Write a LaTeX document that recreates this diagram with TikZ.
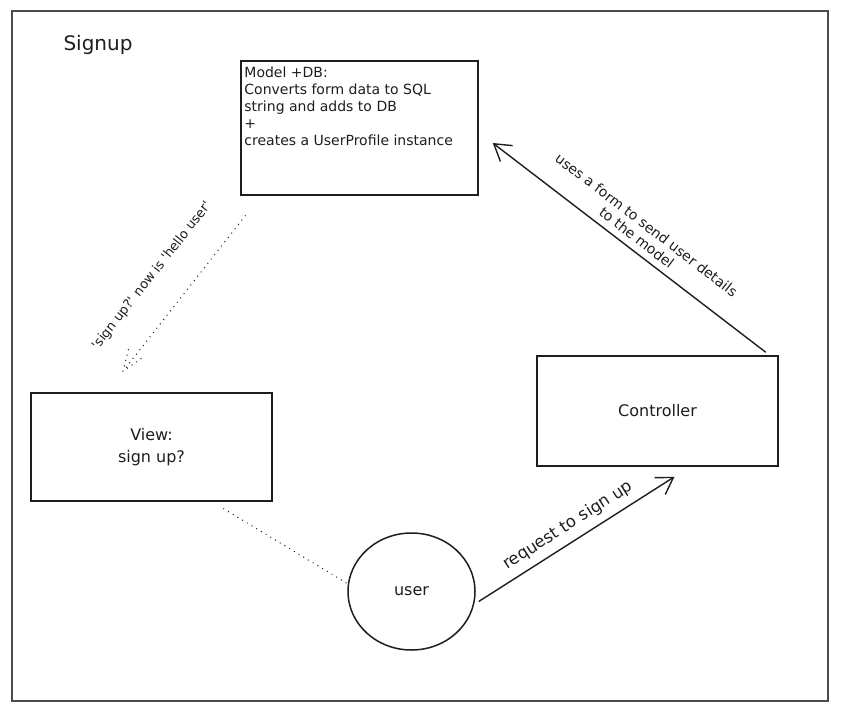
\documentclass[tikz,border=0pt]{standalone}
\usepackage{fontspec}
\setmainfont{DejaVu Sans}
\usetikzlibrary{arrows.meta,calc,shapes.geometric}
\definecolor{ink}{HTML}{1E1E1E}
\begin{document}
\begin{tikzpicture}[x=1pt,y=-1pt,
  box/.style={draw=ink, line width=1.5pt, rectangle, inner sep=0pt},
  lbl/.style={text=ink, font=\fontsize{16}{22}\selectfont},
  arr/.style={draw=ink, line width=1.4pt, -{Straight Barb[length=16pt,width=20pt,line width=1.4pt]}},
  dots/.style={draw=ink, line width=1.4pt, line cap=round, dash pattern=on 0pt off 5.5pt},
]
\useasboundingbox (0,0) rectangle (841,712);
\fill[white] (0,0) rectangle (841,712);
\draw[line width=1.6pt, draw=ink!80] (12,11) rectangle (828,701);
\node[lbl, font=\fontsize{20}{24}\selectfont] (title) at (98,45) {Signup};

\node[box, minimum width=237pt, minimum height=134pt] (model) at (359.5,128) {};
\node[text=ink, anchor=north west, inner sep=0pt, align=left, font=\fontsize{14}{17}\selectfont] (modeltext) at ($(model.north west)+(4,6)$) {Model +DB:\\Converts form data to SQL\\string and adds to DB\\+\\creates a UserProfile instance};

\node[box, lbl, minimum width=241pt, minimum height=108pt, align=center] (view) at (151.5,447) {View:\\sign up?};
\node[box, lbl, minimum width=241pt, minimum height=110pt] (controller) at (657.5,411) {Controller};
\node[ellipse, draw=ink, line width=1.5pt, minimum width=127pt, minimum height=117pt, inner sep=0pt, lbl] (user) at (411.5,591.5) {user};

\draw[arr] ($(user.east)+(3,10)$) -- node[text=ink, sloped, above=4pt, font=\fontsize{16.5}{20}\selectfont] (reqlbl) {request to sign up} ($(controller.south)+(17,10)$);
\draw[arr] ($(controller.north east)+(-13,-3)$) -- node[text=ink, sloped, above=3pt, align=center, font=\fontsize{14}{16}\selectfont] (formlbl) {uses a form to send user details\\to the model} ($(model.east)+(14,15)$);
\draw[dots] ($(model.south west)+(5,20)$) -- node[text=ink, sloped, above=26pt, pos=0.53, font=\fontsize{13}{15}\selectfont] (hellolbl) {\textquotesingle sign up?\textquotesingle{} now is \textquotesingle hello user\textquotesingle} ($(view.north)+(-28.5,-21)$) coordinate (tip) -- ++(6,-24) (tip) -- ++(20,-14);
\draw[dots] ($(view.south east)+(-49,7)$) -- ($(user.west)+(0,-8)$);
\end{tikzpicture}
\end{document}
